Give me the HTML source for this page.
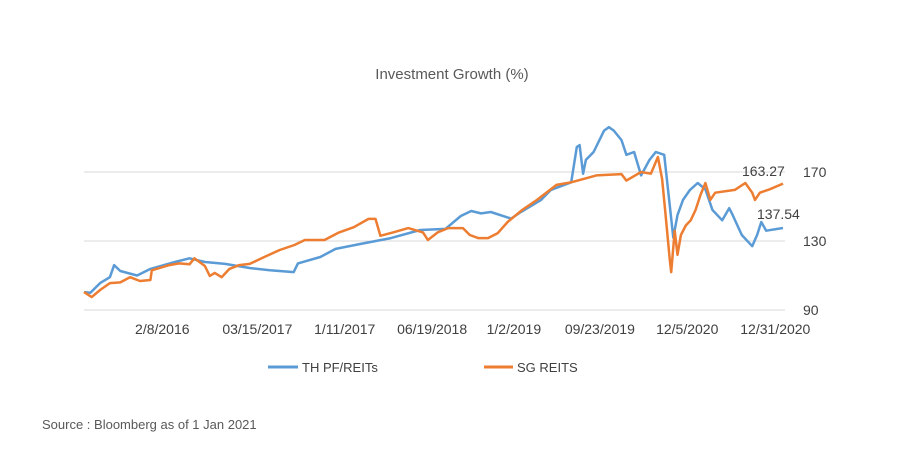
<!DOCTYPE html>
<html><head><meta charset="utf-8"><style>
body{margin:0;background:#fff;font-family:"Liberation Sans",Arial,sans-serif}
svg text{font-family:"Liberation Sans",Arial,sans-serif}
</style></head><body>
<svg width="904" height="444" viewBox="0 0 904 444">
<text x="452" y="79" text-anchor="middle" font-size="15" fill="#595959">Investment Growth (%)</text>
<g id="grid"></g><g id="xlabels"></g><g id="series"></g>
<g>
<line x1="268" y1="367" x2="298" y2="367" stroke="#5b9bd5" stroke-width="3"/>
<text x="302" y="372" font-size="13" fill="#404040">TH PF/REITs</text>
<line x1="484" y1="367" x2="513" y2="367" stroke="#ed7d31" stroke-width="3"/>
<text x="517" y="372" font-size="13" fill="#404040">SG REITS</text>
</g>
<text x="42" y="429" font-size="13" fill="#595959">Source : Bloomberg as of 1 Jan 2021</text>
<text x="742" y="176" font-size="14" fill="#404040">163.27</text>
<text x="757" y="219" font-size="14" fill="#404040">137.54</text>
</svg>
<script>
const yTicks=[90,130,170];
const xTickLabels=["2/8/2016","03/15/2017","1/11/2017","06/19/2018","1/2/2019","09/23/2019","12/5/2020","12/31/2020"];
const xTickPos=[11.2,24.8,37.3,49.8,61.5,73.8,86.3,98.9];
const thT=[0,0.9,2.3,3.7,4.3,5.2,7.6,9.5,13,15.1,17.3,20.2,23.8,26.6,30,30.6,33.8,36,39.6,43.9,48.1,51.7,53.9,55.4,56.8,58.2,61.1,62.5,65.4,66.8,69.7,70.5,70.9,71.4,71.8,72.9,74.4,75.1,75.8,76.9,77.6,78.7,79.7,80.9,81.8,83,84.3,84.9,85.7,86.7,87.8,88.9,89.9,91.3,92.3,92.8,94.1,95.6,96.3,96.9];
const thV=[100.4,100,105.6,109,116,112.6,110,113.8,117.8,120,117.8,116.7,114.3,113,112,117,120.7,125.4,128.3,131.7,136.4,137,144.5,147.4,146,146.8,143,146.8,153.8,159.6,164,184.5,185.6,169,177,181.6,194,196,194,188.5,180,181.6,168,177,181.6,180,132,145,153.8,159.6,163.6,160,148,142,149,145,133.5,127,133.5,141];
const thLastT=[97.6,100],thLastV=[136,137.54];
const sgT=[0,1.1,2.3,3.7,5.2,6.6,8,9.5,9.7,12.2,13.6,15.1,15.8,17.3,18,18.7,19.7,20.8,22.2,23.7,25.8,28,30.1,31.6,34.4,36.5,38.6,40.7,41.7,42.4,44.2,46.4,48.5,49.2,50.6,52.1,54.2,55.2,56.4,57.8,59.2,60.6,62.7,64.8,67.6,69.7,73.3,76.9,77.6,79.7,81.1,82.1,82.7,83.2,83.8,84,84.5,84.9,85.4,86.1,86.8,87.5,88.2,88.9,89.6,90.3,93.1,94.6,95.6,96,96.7,98.1,100];
const sgV=[100.4,97.5,101.6,105.6,106,109,106.8,107.4,113,116,117,116.5,120,115.5,109.7,111.5,109,113.8,116,116.7,120.7,124.8,127.7,130.6,130.6,135,138,142.8,142.8,133,135,137.5,135,130.6,135,137.5,137.5,133.5,131.7,131.7,134.6,141,148,153.8,162.5,164,168,168.8,165,170,169,178.7,166,145,119,112,136,122,133.5,139,142,148,156.7,163.6,153.8,158,159.6,163.6,158,153.8,158,160,163.27];
const NS="http://www.w3.org/2000/svg";
const X0=84,X1=783,PL=84,PR=785;
function xs(t){return X0+(X1-X0)*t/100;}
function ys(v){return 310-(v-90)*69/40;}
const grid=document.getElementById('grid');
yTicks.forEach(v=>{
 const l=document.createElementNS(NS,'line');
 l.setAttribute('x1',PL);l.setAttribute('x2',PR);l.setAttribute('y1',ys(v));l.setAttribute('y2',ys(v));
 l.setAttribute('stroke','#d9d9d9');l.setAttribute('stroke-width','1');
 
 
 grid.appendChild(l);
 const t=document.createElementNS(NS,'text');
 t.setAttribute('x',803);t.setAttribute('y',ys(v)+5);t.setAttribute('font-size','14');t.setAttribute('fill','#404040');
 t.textContent=v;
 
 
 grid.appendChild(t);
});
const xl=document.getElementById('xlabels');
xTickLabels.forEach((s,i)=>{
 const t=document.createElementNS(NS,'text');
 t.setAttribute('x',xs(xTickPos[i]));t.setAttribute('y',334);t.setAttribute('text-anchor','middle');
 t.setAttribute('font-size','14');t.setAttribute('fill','#404040');t.textContent=s;
 
 
 xl.appendChild(t);
});
function line(T,V,c,name){
 const p=document.createElementNS(NS,'polyline');
 p.setAttribute('points',T.map((t,i)=>xs(t).toFixed(1)+','+ys(V[i]).toFixed(1)).join(' '));
 p.setAttribute('fill','none');p.setAttribute('stroke',c);p.setAttribute('stroke-width','2.5');p.setAttribute('stroke-linejoin','round');
 
 
 document.getElementById('series').appendChild(p);
}
line(thT.concat(thLastT),thV.concat(thLastV),'#5b9bd5','th-pf-reits-line');
line(sgT,sgV,'#ed7d31','sg-reits-line');
</script>
</body></html>
